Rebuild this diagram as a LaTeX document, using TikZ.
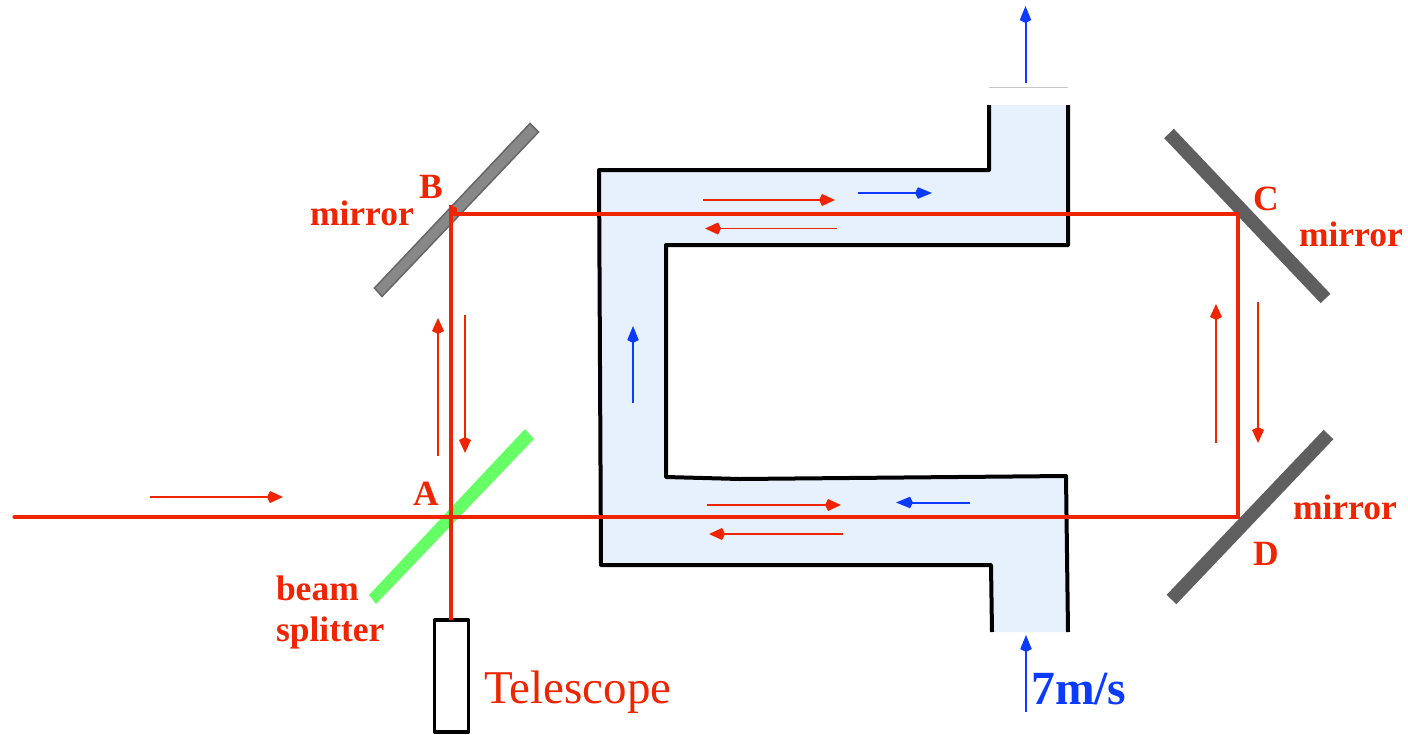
\documentclass[tikz,border=0pt]{standalone}
\usepackage{fontspec}
\setmainfont{Liberation Serif}
\usetikzlibrary{arrows.meta}
\definecolor{beamred}{HTML}{EE2500}
\definecolor{flowblue}{HTML}{0B3BFF}
\definecolor{water}{HTML}{E6F1FD}
\definecolor{mirrorB}{HTML}{888888}
\definecolor{mirrorBe}{HTML}{666666}
\definecolor{mirrorC}{HTML}{5F5F5F}
\definecolor{splitgreen}{HTML}{66FF66}
\tikzset{
  x=1pt,y=-1pt,
  beamline/.style={draw=beamred,line width=4.2pt},
  redarrow/.style={draw=beamred,line width=1.8pt,-{Kite[length=16pt,width=12pt,inset=3pt]}},
  bluearrow/.style={draw=flowblue,line width=2pt,-{Kite[length=17pt,width=11.5pt,inset=3pt]}},
  wall/.style={draw=black,line width=4pt,line join=round},
  lab/.style={text=beamred,font=\fontsize{35.5}{36}\selectfont\bfseries,anchor=base west,inner sep=0pt,outer sep=0pt},
}
\begin{document}
\begin{tikzpicture}
\useasboundingbox (0,0) rectangle (1408,734);
% flow channel
\fill[water] (989,105) -- (989,170) -- (599,170) -- (601,565) -- (991,565) -- (992,632) -- (1068,632) -- (1066,476) -- (740,479) -- (666,477) -- (666,245) -- (1068,245) -- (1068,105) -- cycle;
\draw[wall] (989,105) -- (989,170) -- (599,170) -- (601,565) -- (991,565) -- (992,632);
\draw[wall] (1068,105) -- (1068,245) -- (666,245) -- (666,477) -- (740,479) -- (1066,476) -- (1068,632);
\draw[draw=black!22,line width=1.2pt] (989,87.5) -- (1068,87.5);
% mirrors and splitter
\draw[draw=mirrorBe,line width=1.5pt,fill=mirrorB] (530,123.5) -- (538.5,132) -- (382,296.5) -- (374.5,288) -- cycle;
\fill[splitgreen] (525,429) -- (534,439) -- (376,604) -- (369,595) -- cycle;
\draw[draw=mirrorC,line width=13.5pt] (1169,133.5) -- (1325.5,298.5);
\draw[draw=mirrorC,line width=13.5pt] (1328.5,434.5) -- (1171.5,599.5);
% telescope
\node[draw=black,line width=3.6pt,minimum width=34pt,minimum height=112pt,inner sep=0pt,outer sep=0pt,line join=round,anchor=north west] (tel) at (434.5,620) {};
% beam coordinates
\coordinate (in) at (14.5,517);
\coordinate (Dpt) at (1238,517);
\coordinate (Cpt) at (1238,214);
\coordinate (Bpt) at (455,214);
\coordinate (Bhook) at (455,209);
\coordinate (Btop) at (451,205);
\draw[beamline,line join=miter,line cap=round] (in) -- (Dpt) -- (Cpt) -- (Bpt) -- (Bhook);
\draw[beamline] (Btop) -- (tel.north -| Btop);
% red arrows
\foreach \n/\ax/\ay/\bx/\by in {1/150/497/283/497, 2/438/456/438/318, 3/465/315/465/453, 4/703/200/835/200, 5/837/228.5/705/228.5, 6/707/505/841/505, 7/843/534/709/534, 8/1216/443/1216/304, 9/1258/302/1258/443}{
  \coordinate (ra\n) at (\ax,\ay);
  \coordinate (rb\n) at (\bx,\by);
  \draw[redarrow] (ra\n) -- (rb\n);
}
% blue arrows
\foreach \n/\ax/\ay/\bx/\by in {1/1025.5/83/1025.5/6, 2/858/193/932/193, 3/633/403/633/326, 4/970/502.5/896/502.5, 5/1026/712/1026/635}{
  \coordinate (ba\n) at (\ax,\ay);
  \coordinate (bb\n) at (\bx,\by);
  \draw[bluearrow] (ba\n) -- (bb\n);
}
% labels
\node[lab] (lmB) at (310,225) {mirror};
\node[lab] (lB) at (419,198) {B};
\node[lab] (lA) at (413,505) {A};
\node[lab] (lbeam) at (276,600) {beam};
\node[lab] (lsplit) at (276,641) {splitter};
\node[lab] (lC) at (1253,210) {C};
\node[lab] (lmC) at (1299,246) {mirror};
\node[lab] (lmD) at (1293,519) {mirror};
\node[lab] (lD) at (1253,565) {D};
\node[anchor=base west,inner sep=0pt,text=beamred,font=\fontsize{47}{48}\selectfont] (ltel) at (484,703) {Telescope};
\node[anchor=base west,inner sep=0pt,text=flowblue,font=\fontsize{47.6}{48}\selectfont\bfseries] (lspeed) at (1031,704) {7m/s};
\end{tikzpicture}
\end{document}
